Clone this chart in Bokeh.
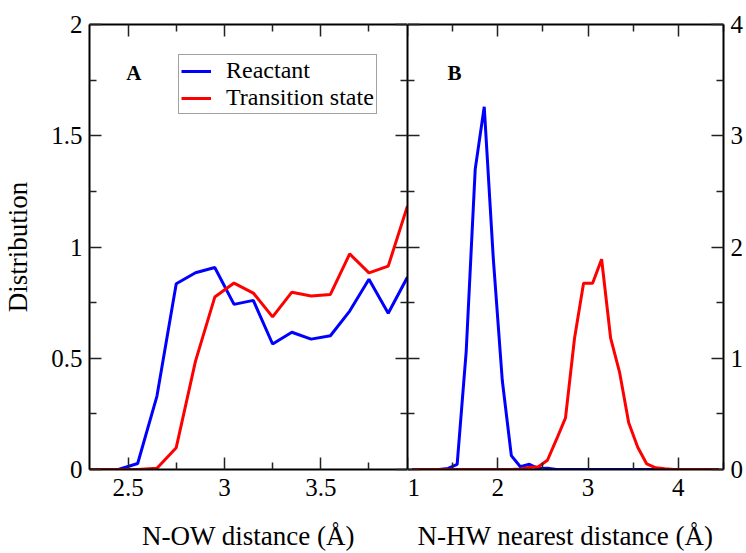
from bokeh.plotting import figure
from bokeh.layouts import row
from bokeh.models import (Range1d, LinearAxis, FixedTicker, CustomJSTickFormatter,
                          Legend, LegendItem, Label)
from bokeh.embed import file_html
from bokeh.resources import INLINE

# ---------------- data ----------------
# Panel A: N-OW distance
a_x = [2.25, 2.35, 2.45, 2.55, 2.65, 2.75, 2.85, 2.95, 3.05, 3.15,
       3.25, 3.35, 3.45, 3.55, 3.65, 3.75, 3.85, 3.95]
a_reactant = [0, 0, 0, 0.027, 0.33, 0.835, 0.884, 0.908, 0.742, 0.76,
              0.564, 0.617, 0.586, 0.601, 0.712, 0.855, 0.702, 0.865]
a_ts = [0, 0, 0, 0, 0.006, 0.098, 0.487, 0.775, 0.838, 0.793,
        0.686, 0.797, 0.780, 0.787, 0.969, 0.884, 0.914, 1.185]

# Panel B: N-HW nearest distance
b_x = [1.05, 1.15, 1.25, 1.35, 1.45, 1.55, 1.65, 1.75, 1.85, 1.95,
       2.05, 2.15, 2.25, 2.35, 2.45, 2.55, 2.65, 2.75, 2.85, 2.95,
       3.05, 3.15, 3.25, 3.35, 3.45, 3.55, 3.65, 3.75, 3.85, 3.95,
       4.05, 4.15, 4.25, 4.35, 4.45]
b_reactant = [0, 0, 0, 0, 0.01, 0.045, 1.06, 2.70, 3.26, 1.90,
              0.80, 0.125, 0.025, 0.047, 0.008, 0.012, 0, 0, 0, 0,
              0, 0, 0, 0, 0, 0, 0, 0, 0, 0,
              0, 0, 0, 0, 0]
b_ts = [0, 0, 0, 0, 0, 0, 0, 0, 0, 0,
        0, 0, 0.005, 0.018, 0.024, 0.083, 0.27, 0.464, 1.18, 1.675,
        1.675, 1.89, 1.18, 0.87, 0.42, 0.20, 0.05, 0.015, 0.006, 0,
        0, 0, 0, 0, 0]

a_xticks = [2.5, 3.0, 3.5]
a_xminor = [2.75, 3.25, 3.75]
a_yticks = [0, 0.5, 1.0, 1.5, 2.0]
a_yminor = [0.25, 0.75, 1.25, 1.75]
b_xticks = [1, 2, 3, 4]
b_xminor = [1.5, 2.5, 3.5, 4.5]
b_yticks = [0, 1, 2, 3, 4]
b_yminor = [0.5, 1.5, 2.5, 3.5]

FONT = "Liberation Serif"
BLUE = "#0000ff"
RED = "#ff0000"

H = 553
TOP = 24
BOTTOM = 81


def style_axis(ax, ticks, minor, labels=True, standoff=5):
    ax.ticker = FixedTicker(ticks=ticks, minor_ticks=minor)
    ax.axis_line_color = "black"
    ax.axis_line_width = 2
    ax.major_tick_in = 12
    ax.major_tick_out = 0
    ax.minor_tick_in = 7
    ax.minor_tick_out = 0
    ax.major_tick_line_color = "#222222"
    ax.major_tick_line_width = 1.5
    ax.minor_tick_line_color = "#222222"
    ax.minor_tick_line_width = 1.5
    ax.major_label_text_font = FONT
    ax.major_label_text_color = "black"
    ax.major_label_text_font_size = "25px"
    ax.major_label_standoff = standoff
    ax.axis_label_text_font = FONT
    ax.axis_label_text_font_size = "27px"
    ax.axis_label_text_font_style = "normal"
    ax.axis_label_text_color = "black"
    ax.axis_label_standoff = 0
    if not labels:
        ax.formatter = CustomJSTickFormatter(code="return ''")
        ax.major_label_text_font_size = "0px"
        ax.major_label_standoff = 0


# ---------------- panel A ----------------
p1 = figure(width=407, height=H, output_backend="svg", toolbar_location=None,
            x_range=Range1d(2.3, 3.95), y_range=Range1d(0, 2),
            min_border_left=89, min_border_right=0, min_border_top=TOP,
            min_border_bottom=BOTTOM)
p1.xgrid.visible = False
p1.ygrid.visible = False
p1.outline_line_color = None
p1.background_fill_color = "white"
p1.border_fill_color = "white"

style_axis(p1.xaxis[0], a_xticks, a_xminor, standoff=9)
p1.xaxis[0].axis_label = "N-OW distance (Å)"
p1.xaxis[0].axis_label_standoff = 22
style_axis(p1.yaxis[0], a_yticks, a_yminor, standoff=7)
p1.yaxis[0].axis_label = "Distribution"
p1.yaxis[0].axis_label_standoff = 15

top1 = LinearAxis()
style_axis(top1, a_xticks, a_xminor, labels=False)
p1.add_layout(top1, "above")
right1 = LinearAxis()
style_axis(right1, a_yticks, a_yminor, labels=False)
p1.add_layout(right1, "right")

rb1 = p1.line(a_x, a_reactant, line_color=BLUE, line_width=3)
rr1 = p1.line(a_x, a_ts, line_color=RED, line_width=3)

legend = Legend(items=[LegendItem(label="Reactant", renderers=[rb1]),
                       LegendItem(label="Transition state", renderers=[rr1])],
                location=(89, 355),
                label_text_font=FONT, label_text_font_size="24px",
                label_text_color="black",
                glyph_width=30, glyph_height=18, label_height=18,
                label_standoff=15, padding=2, spacing=0, margin=0,
                border_line_color="#444444", border_line_width=1,
                background_fill_color="white", background_fill_alpha=1)
p1.add_layout(legend)

p1.add_layout(Label(x=2.53, y=1.78, text="A", text_font=FONT,
                    text_font_style="bold", text_font_size="21px",
                    text_align="center", text_baseline="alphabetic",
                    text_color="black"))

# ---------------- panel B ----------------
p2 = figure(width=339, height=H, output_backend="svg", toolbar_location=None,
            x_range=Range1d(1, 4.5), y_range=Range1d(0, 4),
            y_axis_location="right",
            min_border_left=0, min_border_right=20, min_border_top=TOP,
            min_border_bottom=BOTTOM)
p2.xgrid.visible = False
p2.ygrid.visible = False
p2.outline_line_color = None
p2.background_fill_color = "white"
p2.border_fill_color = "white"

style_axis(p2.xaxis[0], b_xticks, b_xminor, standoff=4)
p2.xaxis[0].major_label_overrides = {1: " 1"}
p2.xaxis[0].axis_label = "N-HW nearest distance (Å)"
p2.xaxis[0].axis_label_standoff = 17
style_axis(p2.yaxis[0], b_yticks, b_yminor, standoff=7)

top2 = LinearAxis()
style_axis(top2, b_xticks, b_xminor, labels=False)
p2.add_layout(top2, "above")
left2 = LinearAxis()
style_axis(left2, b_yticks, b_yminor, labels=False)
p2.add_layout(left2, "left")

p2.line(b_x, b_reactant, line_color=BLUE, line_width=3)
p2.line(b_x, b_ts, line_color=RED, line_width=3)

p2.add_layout(Label(x=1.52, y=3.56, text="B", text_font=FONT,
                    text_font_style="bold", text_font_size="21px",
                    text_align="center", text_baseline="alphabetic",
                    text_color="black"))

layout = row(p1, p2, spacing=0)
open("out.html", "w").write(file_html(layout, INLINE))
